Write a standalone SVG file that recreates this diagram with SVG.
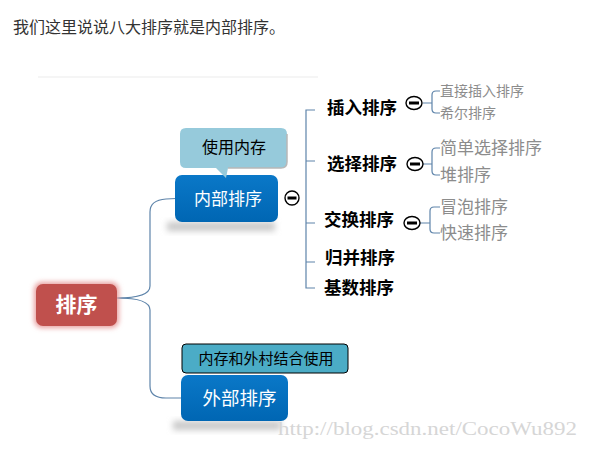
<svg xmlns="http://www.w3.org/2000/svg" width="589" height="449" viewBox="0 0 589 449">
<style>
.cjk{font-family:"Noto Sans CJK SC","Noto Sans",sans-serif}
.lvl2{font-family:"Noto Sans CJK SC",sans-serif;font-weight:bold;font-size:17.5px;fill:#000}
.leaf{font-family:"Noto Sans CJK SC",sans-serif;fill:#8c8c8c}
.conn{fill:none;stroke:#5e84aa;stroke-width:1.2}
.mini{fill:#fff;stroke:#000;stroke-width:1.4}
.bar{fill:#000}
</style>
<defs>
<filter id="blur" x="-20%" y="-50%" width="140%" height="200%"><feGaussianBlur stdDeviation="3"/></filter>
<filter id="glow" x="-20%" y="-30%" width="140%" height="160%"><feGaussianBlur stdDeviation="2.5"/></filter>
<linearGradient id="blue" x1="0" y1="0" x2="0" y2="1"><stop offset="0" stop-color="#0a78c8"/><stop offset="1" stop-color="#0066b3"/></linearGradient>
</defs>
<rect width="589" height="449" fill="#fff"/>
<text class="cjk" x="13" y="33" font-size="16" fill="#333">我们这里说说八大排序就是内部排序。</text>
<line x1="38" y1="77" x2="318" y2="77" stroke="#f2f2f2" stroke-width="1.5"/>

<g id="connectors">
<path class="conn" d="M117,298 Q150,298 150,286 V212 Q150,200 166,199 L186,198"/>
<path class="conn" d="M117,298 Q150,298 150,310 V386 Q150,398 166,398 L186,398"/>
<path class="conn" d="M315,110 H306 V288 H315 M306,161 H315 M306,223 H315 M306,262 H315"/>
<path class="conn" d="M423,103 H432 M440,91 H436 Q432,91 432,95 V109 Q432,113 436,113 H440"/>
<path class="conn" d="M423,164 H432 M440,148 H436 Q432,148 432,152 V171 Q432,175 436,175 H440"/>
<path class="conn" d="M420,223 H430 M440,207 H434 Q430,207 430,211 V229 Q430,233 434,233 H440"/>
</g>

<g id="root">
<rect x="34" y="282" width="85" height="46" rx="8" fill="#e8a0a0" filter="url(#glow)"/>
<rect x="36" y="284" width="81" height="42" rx="7" fill="#c0504d"/>
<text x="76.5" y="312" text-anchor="middle" class="cjk" font-size="21" font-weight="bold" fill="#fff">排序</text>
</g>

<g id="internal">
<rect x="167" y="222" width="108" height="9" fill="#c8c8c8" filter="url(#blur)"/>
<rect x="175" y="175" width="103" height="47" rx="7" fill="url(#blue)"/>
<text x="228" y="204.5" text-anchor="middle" class="cjk" font-size="17" fill="#fff">内部排序</text>
<circle class="mini" cx="292" cy="198" r="7"/>
<rect class="bar" x="287.5" y="196.5" width="9" height="3"/>
</g>

<g id="callout-internal">
<path d="M186,128 H281 Q287,128 287,134 V162 Q287,168 281,168 H228 L226,178 L216,168 H186 Q180,168 180,162 V134 Q180,128 186,128 Z" fill="#96cadb"/>
<path d="M287,134 V162 Q287,168 281,168 H228" fill="none" stroke="#b8b8b8" stroke-width="1.5"/>
<text x="234" y="152.5" text-anchor="middle" class="cjk" font-size="16" fill="#000">使用内存</text>
</g>

<g id="insert">
<text x="327" y="114" class="lvl2">插入排序</text>
<ellipse class="mini" cx="414" cy="103" rx="8" ry="6.5"/>
<rect class="bar" x="409" y="101.5" width="10" height="3"/>
</g>
<g id="select">
<text x="327" y="170" class="lvl2">选择排序</text>
<ellipse class="mini" cx="415" cy="164" rx="8" ry="6.5"/>
<rect class="bar" x="410" y="162.5" width="10" height="3"/>
</g>
<g id="swap">
<text x="324" y="226" class="lvl2">交换排序</text>
<ellipse class="mini" cx="412" cy="223" rx="8" ry="6.5"/>
<rect class="bar" x="407" y="221.5" width="10" height="3"/>
</g>
<g id="merge"><text x="325" y="264" class="lvl2">归并排序</text></g>
<g id="radix"><text x="324" y="294" class="lvl2">基数排序</text></g>

<g id="leaf-direct"><text x="440" y="96" class="leaf" font-size="14">直接插入排序</text></g>
<g id="leaf-shell"><text x="440" y="118" class="leaf" font-size="14">希尔排序</text></g>
<g id="leaf-simple"><text x="440" y="154" class="leaf" font-size="17">简单选择排序</text></g>
<g id="leaf-heap"><text x="440" y="181" class="leaf" font-size="17">堆排序</text></g>
<g id="leaf-bubble"><text x="440" y="213" class="leaf" font-size="17">冒泡排序</text></g>
<g id="leaf-quick"><text x="440" y="239" class="leaf" font-size="17">快速排序</text></g>

<g id="callout-external">
<rect x="182" y="344" width="166" height="29" rx="4" fill="#4bacc6" stroke="#000" stroke-width="1"/>
<text x="266" y="363.5" text-anchor="middle" class="cjk" font-size="15" fill="#000">内存和外村结合使用</text>
</g>

<g id="external">
<rect x="173" y="421" width="108" height="9" fill="#c8c8c8" filter="url(#blur)"/>
<rect x="181" y="375" width="107" height="46" rx="7" fill="url(#blue)"/>
<text x="239.5" y="404.5" text-anchor="middle" class="cjk" font-size="18.5" fill="#fff">外部排序</text>
</g>

<text x="278" y="435" font-family="Liberation Serif,serif" font-size="18" fill="#d6d6d6" textLength="299" lengthAdjust="spacingAndGlyphs">http://blog.csdn.net/CocoWu892</text>
</svg>
